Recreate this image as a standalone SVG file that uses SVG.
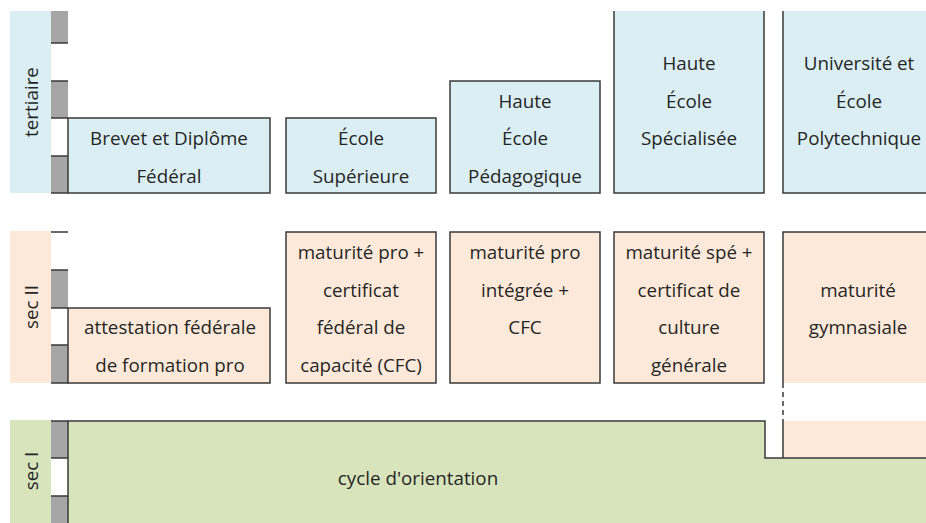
<svg xmlns="http://www.w3.org/2000/svg" width="926" height="523" viewBox="0 0 926 523">
<style>
.t{font-family:"Open Sans","Noto Sans",sans-serif;font-size:18.8px;fill:#262626;text-anchor:middle;dominant-baseline:central}
.bl{fill:#daeef3}
.pe{fill:#fde9d9}
.gr{fill:#d7e4bc}
.box{stroke:#3a3a3a;stroke-width:1.5}
.ln{stroke:#3a3a3a;stroke-width:1.5;fill:none}
.gy{fill:#a6a6a6}
</style>
<rect width="926" height="523" fill="#ffffff"/>
<g id="bands">
<rect class="bl" x="10" y="11" width="41" height="182"/>
<rect class="pe" x="10" y="231" width="41" height="152"/>
<rect class="gr" x="10" y="420" width="41" height="103"/>
<text class="t" transform="translate(31,102) rotate(-90)">tertiaire</text>
<text class="t" transform="translate(31,307) rotate(-90)">sec II</text>
<text class="t" transform="translate(31,471) rotate(-90)">sec I</text>
</g>
<g id="years">
<rect class="gy" x="51" y="11" width="17" height="32"/>
<rect class="gy" x="51" y="81" width="17" height="37"/>
<rect class="gy" x="51" y="156" width="17" height="37"/>
<rect class="gy" x="51" y="270" width="17" height="38"/>
<rect class="gy" x="51" y="345" width="17" height="38"/>
<rect class="gy" x="51" y="421" width="17" height="37"/>
<rect class="gy" x="51" y="496" width="17" height="27"/>
<path class="ln" d="M51 43H68M51 81H68M51 118H68M51 156H68M51 193H68M51 232H68M51 270H68M51 308H68M51 345H68M51 383H68M51 421H68M51 458H68M51 496H68"/>
</g>
<g id="seci">
<path class="gr" d="M68 421H765V458H926V523H68Z"/>
<rect class="pe" x="783" y="421" width="143" height="37"/>
<path class="ln" d="M68 523V421H765V458H926M783 458V421"/>
<text class="t" x="418" y="478">cycle d'orientation</text>
</g>
<g id="brevet">
<rect class="bl box" x="68" y="118" width="202" height="75"/>
<text class="t" x="169" y="138">Brevet et Diplôme</text>
<text class="t" x="169" y="176">Fédéral</text>
</g>
<g id="es">
<rect class="bl box" x="286" y="118" width="150" height="75"/>
<text class="t" x="361" y="138">École</text>
<text class="t" x="361" y="176">Supérieure</text>
</g>
<g id="hep">
<rect class="bl box" x="450" y="81" width="150" height="112"/>
<text class="t" x="525" y="101">Haute</text>
<text class="t" x="525" y="138">École</text>
<text class="t" x="525" y="176">Pédagogique</text>
</g>
<g id="hes">
<rect class="bl" x="614" y="11" width="150" height="182"/>
<path class="ln" d="M614 11V193H764V11"/>
<text class="t" x="689" y="63">Haute</text>
<text class="t" x="689" y="101">École</text>
<text class="t" x="689" y="138">Spécialisée</text>
</g>
<g id="uni">
<rect class="bl" x="783" y="11" width="143" height="182"/>
<path class="ln" d="M783 11V193H926"/>
<text class="t" x="859" y="63">Université et</text>
<text class="t" x="859" y="101">École</text>
<text class="t" x="859" y="138">Polytechnique</text>
</g>
<g id="afp">
<rect class="pe box" x="68" y="308" width="202" height="75"/>
<text class="t" x="170" y="327">attestation fédérale</text>
<text class="t" x="170" y="365">de formation pro</text>
</g>
<g id="mpcfc">
<rect class="pe box" x="286" y="232" width="150" height="151"/>
<text class="t" x="361" y="252">maturité pro +</text>
<text class="t" x="361" y="290">certificat</text>
<text class="t" x="361" y="327">fédéral de</text>
<text class="t" x="361" y="365">capacité (CFC)</text>
</g>
<g id="mpi">
<rect class="pe box" x="450" y="232" width="150" height="151"/>
<text class="t" x="525" y="252">maturité pro</text>
<text class="t" x="525" y="290">intégrée +</text>
<text class="t" x="525" y="327">CFC</text>
</g>
<g id="mspe">
<rect class="pe box" x="614" y="232" width="150" height="151"/>
<text class="t" x="689" y="252">maturité spé +</text>
<text class="t" x="689" y="290">certificat de</text>
<text class="t" x="689" y="327">culture</text>
<text class="t" x="689" y="365">générale</text>
</g>
<g id="mg">
<rect class="pe" x="783" y="232" width="143" height="151"/>
<path class="ln" d="M926 232H783V383"/>
<text class="t" x="858" y="290">maturité</text>
<text class="t" x="858" y="327">gymnasiale</text>
</g>
<g id="connectors">
<path class="ln" stroke-dasharray="5 4" d="M783 383V421"/>
</g>
</svg>
